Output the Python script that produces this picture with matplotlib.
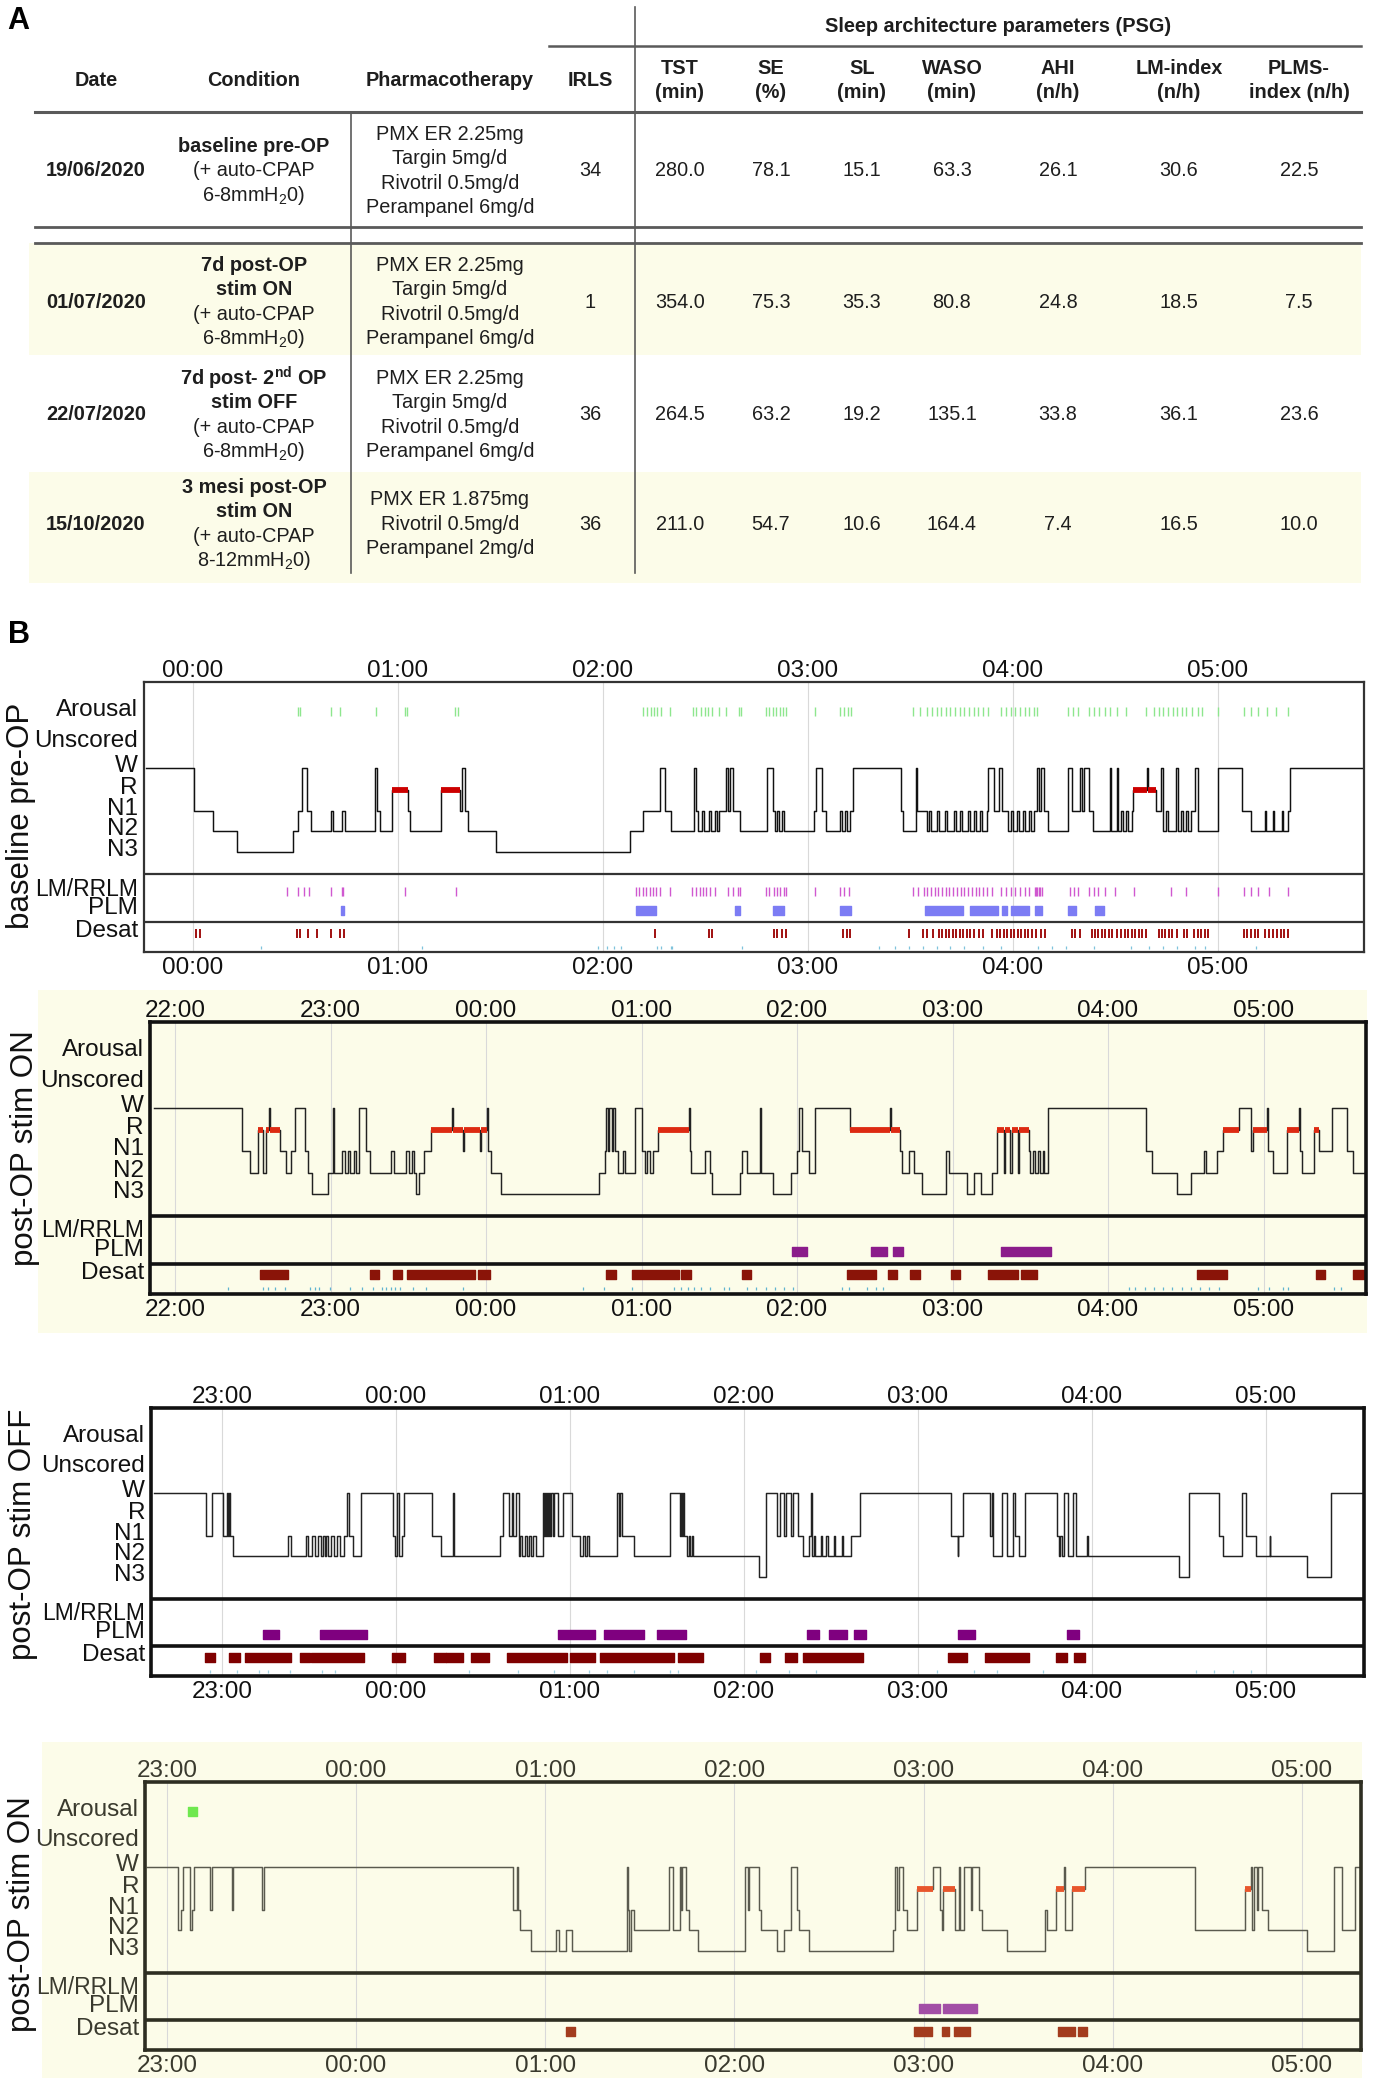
import matplotlib
matplotlib.use("Agg")
import matplotlib.pyplot as plt
from matplotlib import font_manager as fm
from matplotlib.patches import Rectangle
from matplotlib.ticker import FuncFormatter

W_PX, H_PX = 1375, 2085

_names = {f.name for f in fm.fontManager.ttflist}
TAB = "Liberation Sans"
NARROW = "Liberation Sans Narrow" if "Liberation Sans Narrow" in _names else "Liberation Sans"
plt.rcParams["font.family"] = [TAB, "DejaVu Sans"]

# ---------------- table data (panel A) ----------------
dates = ["19/06/2020", "01/07/2020", "22/07/2020", "15/10/2020"]
conditions = [
    ["baseline pre-OP", "(+ auto-CPAP", r"6-8mmH$_{\mathregular{2}}$0)"],
    ["7d post-OP", "stim ON", "(+ auto-CPAP", r"6-8mmH$_{\mathregular{2}}$0)"],
    [r"7d post- 2$^{\mathregular{nd}}$ OP", "stim OFF", "(+ auto-CPAP", r"6-8mmH$_{\mathregular{2}}$0)"],
    ["3 mesi post-OP", "stim ON", "(+ auto-CPAP", r"8-12mmH$_{\mathregular{2}}$0)"],
]
cond_bold = [1, 2, 2, 2]
pharma = [
    ["PMX ER 2.25mg", "Targin 5mg/d", "Rivotril 0.5mg/d", "Perampanel 6mg/d"],
    ["PMX ER 2.25mg", "Targin 5mg/d", "Rivotril 0.5mg/d", "Perampanel 6mg/d"],
    ["PMX ER 2.25mg", "Targin 5mg/d", "Rivotril 0.5mg/d", "Perampanel 6mg/d"],
    ["PMX ER 1.875mg", "Rivotril 0.5mg/d", "Perampanel 2mg/d"],
]
irls = [34, 1, 36, 36]
param_heads = [("TST", "(min)"), ("SE", "(%)"), ("SL", "(min)"), ("WASO", "(min)"),
               ("AHI", "(n/h)"), ("LM-index", "(n/h)"), ("PLMS-", "index (n/h)")]
params = [
    [280.0, 78.1, 15.1, 63.3, 26.1, 30.6, 22.5],
    [354.0, 75.3, 35.3, 80.8, 24.8, 18.5, 7.5],
    [264.5, 63.2, 19.2, 135.1, 33.8, 36.1, 23.6],
    [211.0, 54.7, 10.6, 164.4, 7.4, 16.5, 10.0],
]

# ---------------- hypnogram data (panel B), times in hours after midnight ----------------
base_hyp = [(-0.23, 'W'), (0.005, 'N1'), (0.098, 'N2'), (0.216, 'N3'), (0.49, 'N2'), (0.51, 'N1'), (0.53, 'W'),
            (0.556, 'N1'), (0.575, 'N2'), (0.675, 'N1'), (0.685, 'N2'), (0.725, 'N1'), (0.742, 'N2'), (0.89, 'W'),
            (0.898, 'N1'), (0.912, 'N2'), (0.97, 'R'), (1.05, 'N1'), (1.058, 'N2'), (1.21, 'R'), (1.30, 'N1'),
            (1.31, 'W'), (1.325, 'N1'), (1.34, 'N2'), (1.48, 'N3'), (2.13, 'N2'), (2.195, 'N1'), (2.279, 'W'),
            (2.30, 'N1'), (2.331, 'N2'), (2.443, 'W'), (2.455, 'N1'), (2.462, 'N2'), (2.485, 'N1'), (2.495, 'N2'),
            (2.515, 'N1'), (2.525, 'N2'), (2.545, 'N1'), (2.555, 'N2'), (2.567, 'N1'), (2.601, 'W'), (2.61, 'N1'),
            (2.62, 'W'), (2.635, 'N1'), (2.669, 'N2'), (2.798, 'W'), (2.827, 'N1'), (2.838, 'N2'), (2.85, 'N1'),
            (2.86, 'N2'), (2.875, 'N1'), (2.885, 'N2'), (3.03, 'N1'), (3.041, 'W'), (3.07, 'N1'), (3.086, 'N2'),
            (3.154, 'N1'), (3.165, 'N2'), (3.18, 'N1'), (3.19, 'N2'), (3.205, 'N1'), (3.221, 'W'), (3.452, 'N1'),
            (3.465, 'N2'), (3.526, 'W'), (3.53, 'N1'), (3.578, 'N2'), (3.59, 'N1'), (3.60, 'N2'), (3.63, 'N1'),
            (3.64, 'N2'), (3.67, 'N1'), (3.68, 'N2'), (3.71, 'N1'), (3.72, 'N2'), (3.74, 'N1'), (3.75, 'N2'),
            (3.78, 'N1'), (3.79, 'N2'), (3.81, 'N1'), (3.82, 'N2'), (3.84, 'N1'), (3.85, 'N2'), (3.871, 'N1'),
            (3.876, 'W'), (3.909, 'N1'), (3.93, 'W'), (3.948, 'N1'), (3.977, 'N2'), (3.99, 'N1'), (4.0, 'N2'),
            (4.02, 'N1'), (4.03, 'N2'), (4.05, 'N1'), (4.06, 'N2'), (4.08, 'N1'), (4.09, 'N2'), (4.101, 'N1'),
            (4.119, 'W'), (4.125, 'N1'), (4.135, 'W'), (4.151, 'N1'), (4.173, 'N2'), (4.27, 'W'), (4.286, 'N1'),
            (4.327, 'W'), (4.335, 'N1'), (4.345, 'W'), (4.372, 'N1'), (4.39, 'N2'), (4.473, 'W'), (4.48, 'N2'),
            (4.507, 'W'), (4.512, 'N2'), (4.525, 'N1'), (4.535, 'N2'), (4.55, 'N1'), (4.56, 'N2'), (4.578, 'N1'),
            (4.586, 'R'), (4.654, 'W'), (4.658, 'R'), (4.699, 'N1'), (4.721, 'W'), (4.733, 'N2'), (4.745, 'N1'),
            (4.755, 'N2'), (4.796, 'W'), (4.805, 'N2'), (4.82, 'N1'), (4.83, 'N2'), (4.845, 'N1'), (4.855, 'N2'),
            (4.87, 'N1'), (4.89, 'W'), (4.901, 'N2'), (4.999, 'W'), (5.116, 'N1'), (5.161, 'N2'), (5.23, 'N1'),
            (5.235, 'N2'), (5.27, 'N1'), (5.275, 'N2'), (5.31, 'N1'), (5.315, 'N2'), (5.341, 'N1'), (5.349, 'W')]
base_end = 5.713
base_arousal = [0.513, 0.522, 0.672, 0.718, 0.892, 1.036, 1.045, 1.28, 1.291, 2.195, 2.216, 2.234, 2.249, 2.264,
                2.281, 2.325, 2.437, 2.455, 2.478, 2.496, 2.511, 2.534, 2.568, 2.602, 2.663, 2.672, 2.793, 2.811,
                2.827, 2.843, 2.861, 2.879, 2.894, 3.035, 3.158, 3.176, 3.194, 3.21, 3.51, 3.548, 3.578, 3.605,
                3.627, 3.65, 3.672, 3.695, 3.718, 3.74, 3.763, 3.785, 3.808, 3.83, 3.853, 3.876, 3.943, 3.966,
                3.988, 4.011, 4.033, 4.056, 4.078, 4.101, 4.119, 4.27, 4.293, 4.315, 4.372, 4.394, 4.417, 4.451,
                4.473, 4.507, 4.552, 4.647, 4.687, 4.71, 4.732, 4.755, 4.778, 4.8, 4.823, 4.845, 4.872, 4.902,
                4.924, 4.999, 5.127, 5.161, 5.195, 5.24, 5.285, 5.341]
base_lm = [0.459, 0.513, 0.54, 0.566, 0.675, 0.725, 0.731, 1.036, 1.284, 2.162, 2.177, 2.195, 2.21, 2.227, 2.243,
           2.26, 2.278, 2.325, 2.436, 2.455, 2.473, 2.488, 2.504, 2.522, 2.545, 2.612, 2.635, 2.657, 2.669, 2.793,
           2.811, 2.833, 2.849, 2.865, 2.883, 2.894, 3.034, 3.158, 3.176, 3.199, 3.51, 3.537, 3.564, 3.582, 3.6,
           3.618, 3.636, 3.654, 3.672, 3.69, 3.708, 3.726, 3.744, 3.762, 3.78, 3.798, 3.817, 3.835, 3.853, 3.871,
           3.898, 3.943, 3.966, 3.988, 4.011, 4.033, 4.056, 4.078, 4.105, 4.112, 4.119, 4.126, 4.132, 4.141,
           4.277, 4.299, 4.315, 4.372, 4.394, 4.416, 4.45, 4.495, 4.592, 4.773, 4.845, 4.998, 5.127, 5.161,
           5.194, 5.251, 5.341]
base_plm = [(0.724, 0.735), (2.162, 2.26), (2.642, 2.669), (2.827, 2.883), (3.158, 3.212), (3.569, 3.758),
            (3.79, 3.925), (3.948, 3.97), (3.988, 4.078), (4.105, 4.141), (4.27, 4.308), (4.399, 4.444)]
base_desat = [0.017, 0.032, 0.507, 0.522, 0.561, 0.605, 0.675, 0.718, 0.736, 2.256, 2.518, 2.534, 2.833, 2.849,
              2.872, 2.894, 3.172, 3.188, 3.203, 3.492, 3.56, 3.582, 3.609, 3.638, 3.654, 3.672, 3.69, 3.706,
              3.722, 3.74, 3.758, 3.774, 3.79, 3.808, 3.835, 3.853, 3.898, 3.92, 3.938, 3.954, 3.97, 3.988,
              4.006, 4.022, 4.038, 4.056, 4.074, 4.092, 4.112, 4.135, 4.157, 4.286, 4.304, 4.326, 4.383, 4.398,
              4.416, 4.434, 4.45, 4.468, 4.484, 4.507, 4.529, 4.547, 4.563, 4.579, 4.597, 4.615, 4.631, 4.647,
              4.71, 4.728, 4.743, 4.759, 4.777, 4.8, 4.834, 4.849, 4.885, 4.901, 4.917, 4.935, 4.951, 5.127,
              5.142, 5.161, 5.179, 5.194, 5.228, 5.251, 5.269, 5.287, 5.305, 5.323, 5.341]
base_minor = [0.332, 1.117, 1.977, 2.021, 2.053, 2.086, 2.263, 2.282, 2.33, 2.336, 2.68, 3.345, 3.424, 3.492,
              3.56, 3.627, 3.695, 3.762, 3.853, 3.943, 4.123, 4.191, 4.259, 4.394, 4.574, 4.665, 4.732, 4.8,
              4.89, 4.935, 5.183]

on7_hyp = [(-2.135, 'W'), (-1.569, 'N1'), (-1.517, 'N2'), (-1.466, 'R'), (-1.432, 'N2'), (-1.412, 'R'),
           (-1.397, 'W'), (-1.389, 'R'), (-1.322, 'N1'), (-1.288, 'N2'), (-1.253, 'N1'), (-1.23, 'W'),
           (-1.164, 'N1'), (-1.144, 'N2'), (-1.116, 'N3'), (-1.015, 'N2'), (-0.986, 'W'), (-0.978, 'N2'),
           (-0.929, 'N1'), (-0.909, 'N2'), (-0.886, 'N1'), (-0.872, 'N2'), (-0.852, 'N1'), (-0.837, 'N2'),
           (-0.814, 'W'), (-0.771, 'N1'), (-0.748, 'N2'), (-0.613, 'N1'), (-0.593, 'N2'), (-0.513, 'N1'),
           (-0.498, 'N2'), (-0.478, 'N1'), (-0.464, 'N2'), (-0.45, 'N3'), (-0.432, 'N2'), (-0.398, 'N1'),
           (-0.355, 'R'), (-0.22, 'W'), (-0.211, 'R'), (-0.148, 'N1'), (-0.139, 'R'), (-0.039, 'N1'),
           (-0.031, 'R'), (0.004, 'W'), (0.013, 'N1'), (0.033, 'N2'), (0.096, 'N3'), (0.728, 'N2'), (0.765, 'N1'),
           (0.774, 'W'), (0.785, 'N1'), (0.794, 'W'), (0.808, 'N1'), (0.817, 'W'), (0.831, 'N1'), (0.851, 'N2'),
           (0.88, 'N1'), (0.894, 'N2'), (0.957, 'W'), (1.003, 'N1'), (1.023, 'N2'), (1.038, 'N1'), (1.052, 'N2'),
           (1.072, 'N1'), (1.109, 'R'), (1.307, 'W'), (1.313, 'N1'), (1.318, 'N2'), (1.405, 'N1'), (1.441, 'N2'),
           (1.456, 'N3'), (1.634, 'N2'), (1.649, 'N1'), (1.678, 'N2'), (1.759, 'W'), (1.768, 'N2'), (1.843, 'N3'),
           (1.961, 'N2'), (2.0, 'N1'), (2.012, 'W'), (2.03, 'N1'), (2.08, 'N2'), (2.116, 'W'), (2.339, 'R'),
           (2.6, 'W'), (2.606, 'R'), (2.66, 'N1'), (2.675, 'N2'), (2.72, 'N1'), (2.75, 'N2'), (2.803, 'N3'),
           (2.957, 'N2'), (2.96, 'N1'), (2.975, 'N2'), (3.09, 'N3'), (3.135, 'N2'), (3.18, 'N3'), (3.255, 'N2'),
           (3.284, 'R'), (3.33, 'N2'), (3.34, 'R'), (3.37, 'N2'), (3.38, 'R'), (3.42, 'N2'), (3.43, 'R'),
           (3.493, 'N1'), (3.5, 'N2'), (3.52, 'N1'), (3.53, 'N2'), (3.55, 'N1'), (3.56, 'N2'), (3.58, 'N1'),
           (3.59, 'N2'), (3.611, 'W'), (4.245, 'N1'), (4.28, 'N2'), (4.444, 'N3'), (4.533, 'N2'), (4.62, 'N1'),
           (4.63, 'N2'), (4.7, 'N1'), (4.741, 'R'), (4.845, 'W'), (4.92, 'N1'), (4.934, 'R'), (5.024, 'W'),
           (5.03, 'N1'), (5.06, 'N2'), (5.152, 'R'), (5.225, 'W'), (5.232, 'N1'), (5.25, 'N2'), (5.327, 'R'),
           (5.357, 'N1'), (5.44, 'W'), (5.538, 'N1'), (5.573, 'N2')]
on7_end = 5.659
on7_plm = [(1.967, 2.065), (2.473, 2.577), (2.615, 2.684), (3.314, 3.635)]
on7_desat = [(-1.454, -1.274), (-0.748, -0.691), (-0.599, -0.541), (-0.507, -0.07), (-0.05, 0.027),
             (0.774, 0.837), (0.937, 1.239), (1.253, 1.319), (1.643, 1.703), (2.324, 2.505), (2.586, 2.645),
             (2.728, 2.788), (2.987, 3.047), (3.231, 3.418), (3.442, 3.546), (4.572, 4.765), (5.336, 5.395),
             (5.574, 5.648)]
on7_minor = [-1.661, -1.432, -1.403, -1.36, -1.294, -1.13, -1.101, -1.073, -1.001, -0.872, -0.8, -0.728, -0.671,
             -0.642, -0.613, -0.585, -0.556, -0.47, -0.384, -0.148, 0.621, 0.756, 0.937, 1.21, 1.253, 1.296,
             1.339, 1.382, 1.441, 1.53, 1.56, 1.679, 1.738, 1.798, 1.857, 1.917, 1.976, 2.289, 2.333, 2.452,
             2.511, 2.556, 4.132, 4.176, 4.236, 4.295, 4.355, 4.414, 4.474, 4.533, 4.593, 4.652, 4.711, 4.964,
             5.038, 5.128, 5.157, 5.455, 5.499]

off_hyp = [(-1.391, 'W'), (-1.09, 'N1'), (-1.06, 'W'), (-0.993, 'N1'), (-0.972, 'W'), (-0.967, 'N1'),
           (-0.962, 'W'), (-0.955, 'N1'), (-0.937, 'N2'), (-0.621, 'N1'), (-0.603, 'N2'), (-0.518, 'N1'),
           (-0.505, 'N2'), (-0.48, 'N1'), (-0.467, 'N2'), (-0.449, 'N1'), (-0.433, 'N2'), (-0.418, 'N1'),
           (-0.41, 'N2'), (-0.403, 'N1'), (-0.39, 'N2'), (-0.372, 'N1'), (-0.357, 'N2'), (-0.339, 'N1'),
           (-0.321, 'N2'), (-0.3, 'N1'), (-0.28, 'W'), (-0.272, 'N1'), (-0.245, 'N2'), (-0.203, 'W'),
           (-0.018, 'N1'), (-0.005, 'N2'), (0.008, 'W'), (0.02, 'N2'), (0.033, 'N1'), (0.046, 'W'), (0.208, 'N1'),
           (0.259, 'N2'), (0.329, 'W'), (0.336, 'N2'), (0.598, 'N1'), (0.616, 'W'), (0.649, 'N1'), (0.665, 'W'),
           (0.675, 'N1'), (0.688, 'W'), (0.706, 'N2'), (0.715, 'N1'), (0.726, 'N2'), (0.74, 'N1'), (0.752, 'N2'),
           (0.765, 'N1'), (0.778, 'N2'), (0.79, 'N1'), (0.803, 'N2'), (0.842, 'W'), (0.848, 'N1'), (0.855, 'W'),
           (0.861, 'N1'), (0.867, 'W'), (0.873, 'N1'), (0.88, 'W'), (0.886, 'N1'), (0.893, 'W'), (0.9, 'N1'),
           (0.906, 'W'), (0.932, 'N1'), (0.962, 'W'), (1.014, 'N1'), (1.06, 'N2'), (1.075, 'N1'), (1.086, 'N2'),
           (1.098, 'N1'), (1.11, 'N2'), (1.27, 'W'), (1.281, 'N1'), (1.288, 'W'), (1.296, 'N1'), (1.368, 'N2'),
           (1.573, 'W'), (1.633, 'N1'), (1.64, 'W'), (1.645, 'N1'), (1.65, 'W'), (1.655, 'N1'), (1.672, 'N2'),
           (1.686, 'N1'), (1.69, 'N2'), (1.70, 'N1'), (1.706, 'N2'), (2.084, 'N3'), (2.124, 'W'), (2.19, 'N1'),
           (2.204, 'W'), (2.23, 'N1'), (2.244, 'W'), (2.27, 'N1'), (2.284, 'W'), (2.31, 'N1'), (2.337, 'N2'),
           (2.376, 'N1'), (2.386, 'W'), (2.39, 'N2'), (2.403, 'N1'), (2.41, 'N2'), (2.443, 'N1'), (2.45, 'N2'),
           (2.469, 'N1'), (2.48, 'N2'), (2.517, 'N1'), (2.525, 'N2'), (2.562, 'N1'), (2.57, 'N2'), (2.616, 'N1'),
           (2.669, 'W'), (3.187, 'N1'), (3.227, 'N2'), (3.232, 'N1'), (3.261, 'W'), (3.413, 'N1'), (3.426, 'W'),
           (3.43, 'N2'), (3.484, 'W'), (3.511, 'N2'), (3.545, 'W'), (3.559, 'N1'), (3.58, 'N2'), (3.612, 'W'),
           (3.798, 'N1'), (3.811, 'N2'), (3.818, 'N1'), (3.825, 'N2'), (3.838, 'W'), (3.864, 'N2'), (3.891, 'W'),
           (3.91, 'N2'), (3.971, 'N1'), (3.975, 'N2'), (4.502, 'N3'), (4.555, 'W'), (4.728, 'N1'), (4.754, 'N2'),
           (4.861, 'W'), (4.882, 'N1'), (4.94, 'N2'), (5.02, 'N1'), (5.025, 'N2'), (5.233, 'N3'), (5.371, 'W')]
off_end = 5.551
off_plm = [(-0.762, -0.672), (-0.438, -0.167), (0.932, 1.142), (1.196, 1.424), (1.501, 1.665), (2.363, 2.43),
           (2.491, 2.592), (2.634, 2.703), (3.227, 3.325), (3.859, 3.926)]
off_desat = [(-1.096, -1.039), (-0.962, -0.895), (-0.87, -0.603), (-0.552, -0.492), (-0.49, -0.185),
             (-0.023, 0.054), (0.218, 0.285), (0.29, 0.385), (0.431, 0.534), (0.636, 0.983), (1.001, 1.145),
             (1.175, 1.599), (1.619, 1.765), (2.092, 2.151), (2.236, 2.305), (2.337, 2.682), (3.174, 3.28),
             (3.386, 3.639), (3.793, 3.859), (3.899, 3.962)]
off_minor = [-1.07, -0.916, -0.788, -0.736, -0.608, -0.428, -0.351, 0.418, 0.7, 0.906, 1.111, 1.214, 1.368,
             1.573, 1.619, 2.071, 2.257, 2.416, 3.107, 3.32, 3.452, 3.718, 4.595, 4.701, 4.808, 4.914]

on3m_hyp = [(-1.103, 'W'), (-0.938, 'N2'), (-0.926, 'N1'), (-0.914, 'W'), (-0.879, 'N2'), (-0.867, 'N1'),
            (-0.855, 'W'), (-0.773, 'N1'), (-0.763, 'W'), (-0.655, 'N1'), (-0.648, 'W'), (-0.494, 'N1'),
            (-0.485, 'W'), (0.832, 'N1'), (0.851, 'W'), (0.857, 'N1'), (0.867, 'N2'), (0.926, 'N3'), (1.056, 'N2'),
            (1.073, 'N3'), (1.11, 'N2'), (1.143, 'N3'), (1.434, 'W'), (1.438, 'N1'), (1.445, 'N3'), (1.452, 'N1'),
            (1.469, 'N2'), (1.657, 'W'), (1.676, 'N2'), (1.713, 'W'), (1.72, 'N1'), (1.725, 'W'), (1.745, 'N1'),
            (1.762, 'N2'), (1.81, 'N3'), (2.055, 'W'), (2.07, 'N1'), (2.075, 'W'), (2.128, 'N1'), (2.14, 'N2'),
            (2.226, 'N3'), (2.263, 'N2'), (2.299, 'W'), (2.331, 'N1'), (2.34, 'N2'), (2.397, 'N3'), (2.837, 'N2'),
            (2.849, 'W'), (2.862, 'N1'), (2.868, 'W'), (2.893, 'N1'), (2.91, 'N2'), (2.966, 'R'), (3.049, 'W'),
            (3.088, 'N1'), (3.097, 'N2'), (3.105, 'R'), (3.167, 'N2'), (3.185, 'W'), (3.192, 'N2'), (3.216, 'W'),
            (3.25, 'N1'), (3.256, 'W'), (3.294, 'N1'), (3.308, 'N2'), (3.44, 'N3'), (3.643, 'N1'), (3.655, 'N2'),
            (3.699, 'R'), (3.741, 'W'), (3.75, 'N2'), (3.783, 'R'), (3.851, 'W'), (4.437, 'N2'), (4.7, 'R'),
            (4.728, 'W'), (4.738, 'N2'), (4.745, 'W'), (4.76, 'N1'), (4.77, 'W'), (4.79, 'N1'), (4.82, 'N2'),
            (5.024, 'N3'), (5.17, 'W'), (5.214, 'N2'), (5.28, 'W')]
on3m_end = 5.30
on3m_arousal = [(-0.886, -0.839)]
on3m_plm = [(2.976, 3.088), (3.105, 3.284)]
on3m_desat = [(1.11, 1.158), (2.947, 3.045), (3.098, 3.137), (3.162, 3.245), (3.709, 3.802), (3.814, 3.863)]

# ---------------- layout ----------------
ROWS = {"Arousal": 30, "Unscored": 61, "W": 86, "R": 108, "N1": 129, "N2": 150, "N3": 171,
        "LM/RRLM": 210, "PLM": 229, "Desat": 252}
MINOR_Y = 266
DIV1, DIV2, BOTTOM = 193, 241, 271
YELLOW = "#fcfce9"

fig = plt.figure(figsize=(W_PX / 100, H_PX / 100), dpi=100)
bg = fig.add_axes([0, 0, 1, 1])
bg.set_xlim(0, W_PX)
bg.set_ylim(H_PX, 0)
bg.axis("off")

# ---- panel A: table ----
bg.text(18, 21, "A", fontsize=22, weight="bold", ha="center", va="center")
for y0, y1 in [(243, 355), (472, 583)]:
    bg.add_patch(Rectangle((29, y0), 1361 - 29, y1 - y0, color=YELLOW, lw=0, zorder=0))

lc = "#5a5a5a"
bg.plot([549, 1361], [46, 46], color=lc, lw=1.8)
bg.plot([35, 1361], [112, 112], color=lc, lw=2.2)
bg.plot([35, 1361], [227, 227], color=lc, lw=2.0)
bg.plot([35, 1361], [243, 243], color=lc, lw=2.0)
bg.plot([635, 635], [7, 573], color=lc, lw=1.2)
bg.plot([351, 351], [112, 573], color=lc, lw=1.2)

tc = "#1e1e1e"
fs = 14.3
bg.text(998, 27, "Sleep architecture parameters (PSG)", fontsize=fs, weight="bold", ha="center", va="center", color=tc)
col_x = {"Date": 96, "Condition": 254, "Pharmacotherapy": 450, "IRLS": 590}
for name, x in col_x.items():
    bg.text(x, 80, name, fontsize=fs, weight="bold", ha="center", va="center", color=tc)
param_x = [680, 771, 862, 952, 1058, 1179, 1299]
for (h1, h2), x in zip(param_heads, param_x):
    bg.text(x, 68, h1, fontsize=fs, weight="bold", ha="center", va="center", color=tc)
    bg.text(x, 92, h2, fontsize=fs, weight="bold", ha="center", va="center", color=tc)

row_y = [171, 302, 415, 524]
dy = 24.5
for i, y in enumerate(row_y):
    bg.text(col_x["Date"], y, dates[i], fontsize=fs, weight="bold", ha="center", va="center", color=tc)
    lines = conditions[i]
    y_top = y - dy * (len(lines) - 1) / 2
    for k, s in enumerate(lines):
        bg.text(col_x["Condition"], y_top + k * dy, s, fontsize=fs, ha="center", va="center", color=tc,
                weight="bold" if k < cond_bold[i] else "normal")
    lines = pharma[i]
    y_top = y - dy * (len(lines) - 1) / 2
    for k, s in enumerate(lines):
        bg.text(col_x["Pharmacotherapy"], y_top + k * dy, s, fontsize=fs, ha="center", va="center", color=tc)
    bg.text(col_x["IRLS"], y, str(irls[i]), fontsize=fs, ha="center", va="center", color=tc)
    for v, x in zip(params[i], param_x):
        bg.text(x, y, f"{v:.1f}", fontsize=fs, ha="center", va="center", color=tc)

# ---- panel B: hypnograms ----
bg.text(19, 635, "B", fontsize=22, weight="bold", ha="center", va="center")
bg.add_patch(Rectangle((38, 990), 1367 - 38, 1333 - 990, color=YELLOW, lw=0, zorder=0))
bg.add_patch(Rectangle((42, 1742), 1362 - 42, 2078 - 1742, color=YELLOW, lw=0, zorder=0))

STYLE1 = dict(edge="#333333", spine=1.6, line="#111111", rem="#cc0000", text="#111111",
              arousal="#8ee68e", lm="#d058d0", plm="#7c7cf4", desat="#a01010", minor="#7fc3dc")
STYLE2 = dict(edge="#111111", spine=2.6, line="#222222", rem="#dd2a12", text="#111111",
              arousal="#8ee68e", lm="#d058d0", plm="#8b1c8b", desat="#8a1408", minor="#5fb4d0")
STYLE3 = dict(STYLE2, plm="#7f007f", desat="#7f0000", minor="#9fd0e2")
STYLE4 = dict(edge="#2e2e22", spine=2.6, line="#5a5a4e", rem="#e8562c", text="#3a3a2e",
              arousal="#6fe84f", lm="#a24ea6", plm="#a24ea6", desat="#a33c1e", minor="#b8b8a8")


def draw_panel(box, xlim, hyp, end, title, title_xy, st, arousal=(), arousal_bars=(), lm=(),
               plm=(), desat=(), desat_bars=(), minor=()):
    left, top, right, bottom = box
    ax = fig.add_axes([left / W_PX, 1 - bottom / H_PX, (right - left) / W_PX, (bottom - top) / H_PX])
    ax.set_facecolor("none")
    ax.set_xlim(*xlim)
    ax.set_ylim(BOTTOM, 0)
    ax.set_yticks([])

    hours = [h for h in range(-3, 7) if xlim[0] <= h <= xlim[1]]
    ax.set_xticks(hours)
    ax.xaxis.set_major_formatter(FuncFormatter(lambda v, _: f"{int(round(v)) % 24:02d}:00"))
    ax.tick_params(axis="x", length=0, labelsize=17.5, top=True, labeltop=True, bottom=True,
                   labelbottom=True, pad=3.8, labelcolor=st["text"])
    for t in ax.xaxis.get_major_ticks():
        t.label1.set_fontfamily(NARROW)
        t.label2.set_fontfamily(NARROW)
        t.label2.set_verticalalignment("baseline")
    ax.grid(axis="x", color="#d9d9d9", lw=0.8)
    ax.set_axisbelow(True)
    for sp in ax.spines.values():
        sp.set_color(st["edge"])
        sp.set_linewidth(st["spine"])
    ax.axhline(DIV1, color=st["edge"], lw=st["spine"])
    ax.axhline(DIV2, color=st["edge"], lw=st["spine"])

    # stage step line, REM drawn as thick bars on top
    xs = [t for t, _ in hyp] + [end]
    ys = [ROWS[s] for _, s in hyp] + [ROWS[hyp[-1][1]]]
    ax.step(xs, ys, where="post", color=st["line"], lw=1.05)
    for i, (t, s) in enumerate(hyp):
        if s == "R":
            t1 = hyp[i + 1][0] if i + 1 < len(hyp) else end
            ax.hlines(ROWS["R"], t, t1, color=st["rem"], lw=4.2)

    if len(arousal):
        ax.vlines(arousal, ROWS["Arousal"] - 4.5, ROWS["Arousal"] + 4.5, color=st["arousal"], lw=1.0)
    if len(arousal_bars):
        ax.broken_barh([(a, b - a) for a, b in arousal_bars], (ROWS["Arousal"] - 4.5, 9), color=st["arousal"])
    if len(lm):
        ax.vlines(lm, ROWS["LM/RRLM"] - 4.5, ROWS["LM/RRLM"] + 4.5, color=st["lm"], lw=1.0)
    if len(plm):
        ax.broken_barh([(a, b - a) for a, b in plm], (ROWS["PLM"] - 4.5, 9), color=st["plm"])
    if len(desat):
        ax.vlines(desat, ROWS["Desat"] - 4.5, ROWS["Desat"] + 4.5, color=st["desat"], lw=1.4)
    if len(desat_bars):
        ax.broken_barh([(a, b - a) for a, b in desat_bars], (ROWS["Desat"] - 4.5, 9), color=st["desat"])
    if len(minor):
        ax.vlines(minor, MINOR_Y - 1.5, MINOR_Y + 1.5, color=st["minor"], lw=0.9)

    xoff = -6 / (right - left)
    for name, y in ROWS.items():
        ax.text(xoff, y - 2, name, transform=ax.get_yaxis_transform(), ha="right", va="center",
                fontsize=16.5 if name == "LM/RRLM" else 17.5, family=NARROW, color=st["text"])
    bg.text(title_xy[0], title_xy[1], title, rotation=90, fontsize=22.5, ha="center", va="center",
            color="#111111")
    return ax


draw_panel((144, 682, 1364, 952), (-0.239, 5.712), base_hyp, base_end, "baseline pre-OP", (21, 816), STYLE1,
           arousal=base_arousal, lm=base_lm, plm=base_plm, desat=base_desat, minor=base_minor)
draw_panel((150, 1022, 1366, 1294), (-2.161, 5.659), on7_hyp, on7_end, "post-OP stim ON", (25, 1148), STYLE2,
           plm=on7_plm, desat_bars=on7_desat, minor=on7_minor)
draw_panel((151, 1408, 1364, 1676), (-1.408, 5.563), off_hyp, off_end, "post-OP stim OFF", (23, 1534), STYLE3,
           plm=off_plm, desat_bars=off_desat, minor=off_minor)
draw_panel((145, 1782, 1361, 2050), (-1.115, 5.312), on3m_hyp, on3m_end, "post-OP stim ON", (22, 1914), STYLE4,
           arousal_bars=on3m_arousal, plm=on3m_plm, desat_bars=on3m_desat)

fig.savefig("out.png", dpi=100)
